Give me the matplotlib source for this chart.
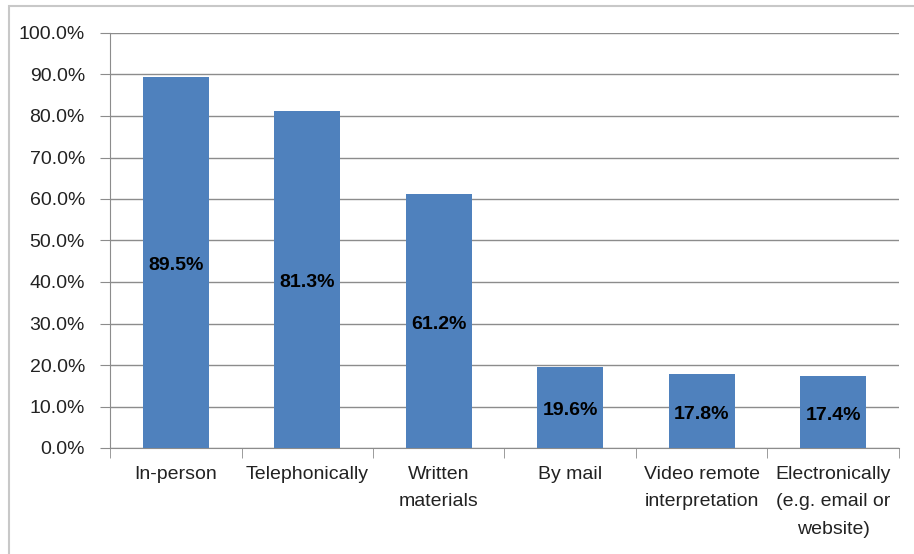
import matplotlib.pyplot as plt
from matplotlib.patches import Rectangle
from matplotlib import font_manager as fm
import numpy as np

categories = ["In-person", "Telephonically", "Written\nmaterials", "By mail",
              "Video remote\ninterpretation", "Electronically\n(e.g. email or\nwebsite)"]
values = [89.5, 81.3, 61.2, 19.6, 17.8, 17.4]
ytick_values = np.arange(0, 101, 10)

names = {f.name for f in fm.fontManager.ttflist}
family = "Liberation Sans Narrow" if "Liberation Sans Narrow" in names else "Liberation Sans"
plt.rcParams["font.family"] = [family, "DejaVu Sans"]

W, H = 914, 554
fig = plt.figure(figsize=(W / 100, H / 100), dpi=100)
ax = fig.add_axes([110 / W, 1 - 448 / H, (899 - 110) / W, (448 - 33) / H])

x = np.arange(len(categories))
bars = ax.bar(x, values, width=0.5, color="#4F81BD", zorder=3)
for b, v in zip(bars, values):
    ax.text(b.get_x() + b.get_width() / 2, v / 2 - 0.8, f"{v:.1f}%", ha="center", va="center",
            fontsize=14, fontweight="bold", color="black", zorder=4)

ax.set_xlim(-0.5, len(categories) - 0.5)
ax.set_ylim(0, 100)
ax.set_yticks(ytick_values)
ax.set_yticklabels([f"{v:.1f}%" for v in ytick_values], fontsize=14, color="#222222")
ax.yaxis.grid(True, color="#8c8c8c", lw=1, zorder=0)

ax.set_xticks(x)
ax.set_xticklabels(categories, fontsize=14, color="#222222", linespacing=1.8)
ax.tick_params(axis="x", length=0, pad=13)
ax.set_xticks(np.arange(-0.5, len(categories)), minor=True)
ax.tick_params(axis="x", which="minor", length=7, color="#8c8c8c")
ax.tick_params(axis="y", length=7, color="#8c8c8c", pad=11)

for s in ["top", "right"]:
    ax.spines[s].set_visible(False)
for s in ["left", "bottom"]:
    ax.spines[s].set_color("#8c8c8c")

# outer chart border
fig.patches.append(Rectangle((9 / W, -0.1), 1.0, 1 - 6 / H + 0.1, transform=fig.transFigure,
                             fill=False, edgecolor="#c8c8c8", lw=1.5))

fig.savefig("out.png", dpi=100)
